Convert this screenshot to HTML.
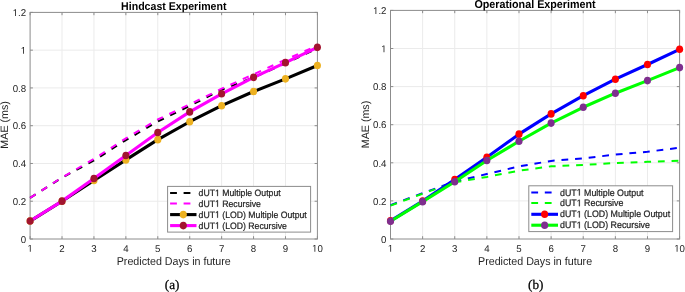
<!DOCTYPE html>
<html><head><meta charset="utf-8"><style>
html,body{margin:0;padding:0;background:#fff;}
svg{display:block;will-change:transform;font-family:"Liberation Sans",sans-serif;}
text{text-rendering:geometricPrecision;}
</style></head><body>
<svg width="685" height="292" viewBox="0 0 685 292">
<defs><path id="one" d="M515 0L515 1237L197 1010L197 1180L530 1409L696 1409L696 0Z"/></defs>
<rect width="685" height="292" fill="#fff"/>
<line x1="62.02" y1="12.40" x2="62.02" y2="239.00" stroke="#ebebeb" stroke-width="1"/>
<line x1="93.94" y1="12.40" x2="93.94" y2="239.00" stroke="#ebebeb" stroke-width="1"/>
<line x1="125.87" y1="12.40" x2="125.87" y2="239.00" stroke="#ebebeb" stroke-width="1"/>
<line x1="157.79" y1="12.40" x2="157.79" y2="239.00" stroke="#ebebeb" stroke-width="1"/>
<line x1="189.71" y1="12.40" x2="189.71" y2="239.00" stroke="#ebebeb" stroke-width="1"/>
<line x1="221.63" y1="12.40" x2="221.63" y2="239.00" stroke="#ebebeb" stroke-width="1"/>
<line x1="253.56" y1="12.40" x2="253.56" y2="239.00" stroke="#ebebeb" stroke-width="1"/>
<line x1="285.48" y1="12.40" x2="285.48" y2="239.00" stroke="#ebebeb" stroke-width="1"/>
<line x1="30.10" y1="201.23" x2="317.40" y2="201.23" stroke="#ebebeb" stroke-width="1"/>
<line x1="30.10" y1="163.47" x2="317.40" y2="163.47" stroke="#ebebeb" stroke-width="1"/>
<line x1="30.10" y1="125.70" x2="317.40" y2="125.70" stroke="#ebebeb" stroke-width="1"/>
<line x1="30.10" y1="87.93" x2="317.40" y2="87.93" stroke="#ebebeb" stroke-width="1"/>
<line x1="30.10" y1="50.17" x2="317.40" y2="50.17" stroke="#ebebeb" stroke-width="1"/>
<rect x="30.10" y="12.40" width="287.30" height="226.60" fill="none" stroke="#8c8c8c" stroke-width="1.0"/>
<line x1="30.10" y1="239.00" x2="30.10" y2="236.20" stroke="#8c8c8c" stroke-width="1.0"/>
<line x1="30.10" y1="12.40" x2="30.10" y2="15.20" stroke="#8c8c8c" stroke-width="1.0"/>
<use href="#one" transform="translate(27.40,251.70) scale(0.00474,-0.00483)" fill="#262626"/><text transform="translate(30.10,251.70) scale(1,1.02)" font-size="9.7" text-anchor="middle" fill="#262626" > </text>
<line x1="62.02" y1="239.00" x2="62.02" y2="236.20" stroke="#8c8c8c" stroke-width="1.0"/>
<line x1="62.02" y1="12.40" x2="62.02" y2="15.20" stroke="#8c8c8c" stroke-width="1.0"/>
<text transform="translate(62.02,251.70) scale(1,1.02)" font-size="9.7" text-anchor="middle" fill="#262626" >2</text>
<line x1="93.94" y1="239.00" x2="93.94" y2="236.20" stroke="#8c8c8c" stroke-width="1.0"/>
<line x1="93.94" y1="12.40" x2="93.94" y2="15.20" stroke="#8c8c8c" stroke-width="1.0"/>
<text transform="translate(93.94,251.70) scale(1,1.02)" font-size="9.7" text-anchor="middle" fill="#262626" >3</text>
<line x1="125.87" y1="239.00" x2="125.87" y2="236.20" stroke="#8c8c8c" stroke-width="1.0"/>
<line x1="125.87" y1="12.40" x2="125.87" y2="15.20" stroke="#8c8c8c" stroke-width="1.0"/>
<text transform="translate(125.87,251.70) scale(1,1.02)" font-size="9.7" text-anchor="middle" fill="#262626" >4</text>
<line x1="157.79" y1="239.00" x2="157.79" y2="236.20" stroke="#8c8c8c" stroke-width="1.0"/>
<line x1="157.79" y1="12.40" x2="157.79" y2="15.20" stroke="#8c8c8c" stroke-width="1.0"/>
<text transform="translate(157.79,251.70) scale(1,1.02)" font-size="9.7" text-anchor="middle" fill="#262626" >5</text>
<line x1="189.71" y1="239.00" x2="189.71" y2="236.20" stroke="#8c8c8c" stroke-width="1.0"/>
<line x1="189.71" y1="12.40" x2="189.71" y2="15.20" stroke="#8c8c8c" stroke-width="1.0"/>
<text transform="translate(189.71,251.70) scale(1,1.02)" font-size="9.7" text-anchor="middle" fill="#262626" >6</text>
<line x1="221.63" y1="239.00" x2="221.63" y2="236.20" stroke="#8c8c8c" stroke-width="1.0"/>
<line x1="221.63" y1="12.40" x2="221.63" y2="15.20" stroke="#8c8c8c" stroke-width="1.0"/>
<text transform="translate(221.63,251.70) scale(1,1.02)" font-size="9.7" text-anchor="middle" fill="#262626" >7</text>
<line x1="253.56" y1="239.00" x2="253.56" y2="236.20" stroke="#8c8c8c" stroke-width="1.0"/>
<line x1="253.56" y1="12.40" x2="253.56" y2="15.20" stroke="#8c8c8c" stroke-width="1.0"/>
<text transform="translate(253.56,251.70) scale(1,1.02)" font-size="9.7" text-anchor="middle" fill="#262626" >8</text>
<line x1="285.48" y1="239.00" x2="285.48" y2="236.20" stroke="#8c8c8c" stroke-width="1.0"/>
<line x1="285.48" y1="12.40" x2="285.48" y2="15.20" stroke="#8c8c8c" stroke-width="1.0"/>
<text transform="translate(285.48,251.70) scale(1,1.02)" font-size="9.7" text-anchor="middle" fill="#262626" >9</text>
<line x1="317.40" y1="239.00" x2="317.40" y2="236.20" stroke="#8c8c8c" stroke-width="1.0"/>
<line x1="317.40" y1="12.40" x2="317.40" y2="15.20" stroke="#8c8c8c" stroke-width="1.0"/>
<use href="#one" transform="translate(312.01,251.70) scale(0.00474,-0.00483)" fill="#262626"/><text transform="translate(317.40,251.70) scale(1,1.02)" font-size="9.7" text-anchor="middle" fill="#262626" > 0</text>
<line x1="30.10" y1="239.00" x2="32.90" y2="239.00" stroke="#8c8c8c" stroke-width="1.0"/>
<line x1="317.40" y1="239.00" x2="314.60" y2="239.00" stroke="#8c8c8c" stroke-width="1.0"/>
<text transform="translate(26.10,242.70) scale(1,1.02)" font-size="9.7" text-anchor="end" fill="#262626" >0</text>
<line x1="30.10" y1="201.23" x2="32.90" y2="201.23" stroke="#8c8c8c" stroke-width="1.0"/>
<line x1="317.40" y1="201.23" x2="314.60" y2="201.23" stroke="#8c8c8c" stroke-width="1.0"/>
<text transform="translate(26.10,204.93) scale(1,1.02)" font-size="9.7" text-anchor="end" fill="#262626" >0.2</text>
<line x1="30.10" y1="163.47" x2="32.90" y2="163.47" stroke="#8c8c8c" stroke-width="1.0"/>
<line x1="317.40" y1="163.47" x2="314.60" y2="163.47" stroke="#8c8c8c" stroke-width="1.0"/>
<text transform="translate(26.10,167.17) scale(1,1.02)" font-size="9.7" text-anchor="end" fill="#262626" >0.4</text>
<line x1="30.10" y1="125.70" x2="32.90" y2="125.70" stroke="#8c8c8c" stroke-width="1.0"/>
<line x1="317.40" y1="125.70" x2="314.60" y2="125.70" stroke="#8c8c8c" stroke-width="1.0"/>
<text transform="translate(26.10,129.40) scale(1,1.02)" font-size="9.7" text-anchor="end" fill="#262626" >0.6</text>
<line x1="30.10" y1="87.93" x2="32.90" y2="87.93" stroke="#8c8c8c" stroke-width="1.0"/>
<line x1="317.40" y1="87.93" x2="314.60" y2="87.93" stroke="#8c8c8c" stroke-width="1.0"/>
<text transform="translate(26.10,91.63) scale(1,1.02)" font-size="9.7" text-anchor="end" fill="#262626" >0.8</text>
<line x1="30.10" y1="50.17" x2="32.90" y2="50.17" stroke="#8c8c8c" stroke-width="1.0"/>
<line x1="317.40" y1="50.17" x2="314.60" y2="50.17" stroke="#8c8c8c" stroke-width="1.0"/>
<use href="#one" transform="translate(20.71,53.87) scale(0.00474,-0.00483)" fill="#262626"/><text transform="translate(26.10,53.87) scale(1,1.02)" font-size="9.7" text-anchor="end" fill="#262626" > </text>
<line x1="30.10" y1="12.40" x2="32.90" y2="12.40" stroke="#8c8c8c" stroke-width="1.0"/>
<line x1="317.40" y1="12.40" x2="314.60" y2="12.40" stroke="#8c8c8c" stroke-width="1.0"/>
<use href="#one" transform="translate(12.62,16.10) scale(0.00474,-0.00483)" fill="#262626"/><text transform="translate(26.10,16.10) scale(1,1.02)" font-size="9.7" text-anchor="end" fill="#262626" > .2</text>
<polyline points="30.10,197.83 62.02,177.63 93.94,160.45 125.87,140.05 157.79,121.55 189.71,105.87 221.63,89.82 253.56,77.55 285.48,63.38 317.40,48.28" fill="none" stroke="#000" stroke-width="2.0" stroke-dasharray="6.5 7.05"/>
<polyline points="30.10,197.83 62.02,177.44 93.94,158.93 125.87,138.35 157.79,119.47 189.71,104.36 221.63,88.69 253.56,74.34 285.48,59.61 317.40,45.63" fill="none" stroke="#ff00ff" stroke-width="2.0" stroke-dasharray="6.5 7.05"/>
<polyline points="30.10,221.06 62.02,201.23 93.94,180.46 125.87,159.88 157.79,139.67 189.71,121.73 221.63,105.68 253.56,91.52 285.48,78.87 317.40,65.46" fill="none" stroke="#000" stroke-width="3.1" stroke-linejoin="round"/>
<ellipse cx="30.10" cy="221.06" rx="3.55" ry="3.80" fill="#EDB120"/>
<ellipse cx="62.02" cy="201.23" rx="3.55" ry="3.80" fill="#EDB120"/>
<ellipse cx="93.94" cy="180.46" rx="3.55" ry="3.80" fill="#EDB120"/>
<ellipse cx="125.87" cy="159.88" rx="3.55" ry="3.80" fill="#EDB120"/>
<ellipse cx="157.79" cy="139.67" rx="3.55" ry="3.80" fill="#EDB120"/>
<ellipse cx="189.71" cy="121.73" rx="3.55" ry="3.80" fill="#EDB120"/>
<ellipse cx="221.63" cy="105.68" rx="3.55" ry="3.80" fill="#EDB120"/>
<ellipse cx="253.56" cy="91.52" rx="3.55" ry="3.80" fill="#EDB120"/>
<ellipse cx="285.48" cy="78.87" rx="3.55" ry="3.80" fill="#EDB120"/>
<ellipse cx="317.40" cy="65.46" rx="3.55" ry="3.80" fill="#EDB120"/>
<polyline points="30.10,221.06 62.02,201.14 93.94,178.57 125.87,155.54 157.79,132.50 189.71,111.92 221.63,93.79 253.56,77.36 285.48,62.63 317.40,47.33" fill="none" stroke="#ff00ff" stroke-width="3.1" stroke-linejoin="round"/>
<ellipse cx="30.10" cy="221.06" rx="3.55" ry="3.80" fill="#A2142F"/>
<ellipse cx="62.02" cy="201.14" rx="3.55" ry="3.80" fill="#A2142F"/>
<ellipse cx="93.94" cy="178.57" rx="3.55" ry="3.80" fill="#A2142F"/>
<ellipse cx="125.87" cy="155.54" rx="3.55" ry="3.80" fill="#A2142F"/>
<ellipse cx="157.79" cy="132.50" rx="3.55" ry="3.80" fill="#A2142F"/>
<ellipse cx="189.71" cy="111.92" rx="3.55" ry="3.80" fill="#A2142F"/>
<ellipse cx="221.63" cy="93.79" rx="3.55" ry="3.80" fill="#A2142F"/>
<ellipse cx="253.56" cy="77.36" rx="3.55" ry="3.80" fill="#A2142F"/>
<ellipse cx="285.48" cy="62.63" rx="3.55" ry="3.80" fill="#A2142F"/>
<ellipse cx="317.40" cy="47.33" rx="3.55" ry="3.80" fill="#A2142F"/>
<text transform="translate(173.75,9.50) scale(1,1.065)" font-size="10.6" text-anchor="middle" fill="#000" font-weight="bold">Hindcast Experiment</text>
<text transform="translate(173.75,265.00) scale(1,1.065)" font-size="10.7" text-anchor="middle" fill="#262626" >Predicted Days in future</text>
<text transform="translate(8.05,124.90) rotate(-90)" font-size="10.7" text-anchor="middle" fill="#262626">MAE (ms)</text>
<text x="172.10" y="288.95" font-size="13.2" text-anchor="middle" fill="#000" stroke="#000" stroke-width="0.25" font-family="Liberation Serif, serif">(a)</text>
<rect x="167.60" y="186.40" width="143.00" height="45.70" fill="#fff" stroke="#8c8c8c" stroke-width="1.0"/>
<line x1="170.10" y1="193.00" x2="196.50" y2="193.00" stroke="#000" stroke-width="2.0" stroke-dasharray="6.8 6.7"/>
<use href="#one" transform="translate(215.04,196.10) scale(0.00425,-0.00452)" fill="#262626" stroke="#262626" stroke-width="51.8"/><text transform="translate(198.60,196.10) scale(1,1.065)" font-size="8.7" text-anchor="start" fill="#262626" stroke="#262626" stroke-width="0.22" >dUT  Multiple Output</text>
<line x1="170.10" y1="203.60" x2="196.50" y2="203.60" stroke="#ff00ff" stroke-width="2.0" stroke-dasharray="6.8 6.7"/>
<use href="#one" transform="translate(215.04,206.70) scale(0.00425,-0.00452)" fill="#262626" stroke="#262626" stroke-width="51.8"/><text transform="translate(198.60,206.70) scale(1,1.065)" font-size="8.7" text-anchor="start" fill="#262626" stroke="#262626" stroke-width="0.22" >dUT  Recursive</text>
<line x1="170.10" y1="214.60" x2="196.50" y2="214.60" stroke="#000" stroke-width="3.1"/>
<ellipse cx="183.30" cy="214.60" rx="3.55" ry="3.80" fill="#EDB120"/>
<use href="#one" transform="translate(215.04,217.70) scale(0.00425,-0.00452)" fill="#262626" stroke="#262626" stroke-width="51.8"/><text transform="translate(198.60,217.70) scale(1,1.065)" font-size="8.7" text-anchor="start" fill="#262626" stroke="#262626" stroke-width="0.22" >dUT  (LOD) Multiple Output</text>
<line x1="170.10" y1="225.60" x2="196.50" y2="225.60" stroke="#ff00ff" stroke-width="3.1"/>
<ellipse cx="183.30" cy="225.60" rx="3.55" ry="3.80" fill="#A2142F"/>
<use href="#one" transform="translate(215.04,228.70) scale(0.00425,-0.00452)" fill="#262626" stroke="#262626" stroke-width="51.8"/><text transform="translate(198.60,228.70) scale(1,1.065)" font-size="8.7" text-anchor="start" fill="#262626" stroke="#262626" stroke-width="0.22" >dUT  (LOD) Recursive</text>
<line x1="422.62" y1="10.40" x2="422.62" y2="239.00" stroke="#ebebeb" stroke-width="1"/>
<line x1="454.74" y1="10.40" x2="454.74" y2="239.00" stroke="#ebebeb" stroke-width="1"/>
<line x1="486.87" y1="10.40" x2="486.87" y2="239.00" stroke="#ebebeb" stroke-width="1"/>
<line x1="518.99" y1="10.40" x2="518.99" y2="239.00" stroke="#ebebeb" stroke-width="1"/>
<line x1="551.11" y1="10.40" x2="551.11" y2="239.00" stroke="#ebebeb" stroke-width="1"/>
<line x1="583.23" y1="10.40" x2="583.23" y2="239.00" stroke="#ebebeb" stroke-width="1"/>
<line x1="615.36" y1="10.40" x2="615.36" y2="239.00" stroke="#ebebeb" stroke-width="1"/>
<line x1="647.48" y1="10.40" x2="647.48" y2="239.00" stroke="#ebebeb" stroke-width="1"/>
<line x1="390.50" y1="200.90" x2="679.60" y2="200.90" stroke="#ebebeb" stroke-width="1"/>
<line x1="390.50" y1="162.80" x2="679.60" y2="162.80" stroke="#ebebeb" stroke-width="1"/>
<line x1="390.50" y1="124.70" x2="679.60" y2="124.70" stroke="#ebebeb" stroke-width="1"/>
<line x1="390.50" y1="86.60" x2="679.60" y2="86.60" stroke="#ebebeb" stroke-width="1"/>
<line x1="390.50" y1="48.50" x2="679.60" y2="48.50" stroke="#ebebeb" stroke-width="1"/>
<rect x="390.50" y="10.40" width="289.10" height="228.60" fill="none" stroke="#8c8c8c" stroke-width="1.0"/>
<line x1="390.50" y1="239.00" x2="390.50" y2="236.20" stroke="#8c8c8c" stroke-width="1.0"/>
<line x1="390.50" y1="10.40" x2="390.50" y2="13.20" stroke="#8c8c8c" stroke-width="1.0"/>
<use href="#one" transform="translate(387.80,251.70) scale(0.00474,-0.00483)" fill="#262626"/><text transform="translate(390.50,251.70) scale(1,1.02)" font-size="9.7" text-anchor="middle" fill="#262626" > </text>
<line x1="422.62" y1="239.00" x2="422.62" y2="236.20" stroke="#8c8c8c" stroke-width="1.0"/>
<line x1="422.62" y1="10.40" x2="422.62" y2="13.20" stroke="#8c8c8c" stroke-width="1.0"/>
<text transform="translate(422.62,251.70) scale(1,1.02)" font-size="9.7" text-anchor="middle" fill="#262626" >2</text>
<line x1="454.74" y1="239.00" x2="454.74" y2="236.20" stroke="#8c8c8c" stroke-width="1.0"/>
<line x1="454.74" y1="10.40" x2="454.74" y2="13.20" stroke="#8c8c8c" stroke-width="1.0"/>
<text transform="translate(454.74,251.70) scale(1,1.02)" font-size="9.7" text-anchor="middle" fill="#262626" >3</text>
<line x1="486.87" y1="239.00" x2="486.87" y2="236.20" stroke="#8c8c8c" stroke-width="1.0"/>
<line x1="486.87" y1="10.40" x2="486.87" y2="13.20" stroke="#8c8c8c" stroke-width="1.0"/>
<text transform="translate(486.87,251.70) scale(1,1.02)" font-size="9.7" text-anchor="middle" fill="#262626" >4</text>
<line x1="518.99" y1="239.00" x2="518.99" y2="236.20" stroke="#8c8c8c" stroke-width="1.0"/>
<line x1="518.99" y1="10.40" x2="518.99" y2="13.20" stroke="#8c8c8c" stroke-width="1.0"/>
<text transform="translate(518.99,251.70) scale(1,1.02)" font-size="9.7" text-anchor="middle" fill="#262626" >5</text>
<line x1="551.11" y1="239.00" x2="551.11" y2="236.20" stroke="#8c8c8c" stroke-width="1.0"/>
<line x1="551.11" y1="10.40" x2="551.11" y2="13.20" stroke="#8c8c8c" stroke-width="1.0"/>
<text transform="translate(551.11,251.70) scale(1,1.02)" font-size="9.7" text-anchor="middle" fill="#262626" >6</text>
<line x1="583.23" y1="239.00" x2="583.23" y2="236.20" stroke="#8c8c8c" stroke-width="1.0"/>
<line x1="583.23" y1="10.40" x2="583.23" y2="13.20" stroke="#8c8c8c" stroke-width="1.0"/>
<text transform="translate(583.23,251.70) scale(1,1.02)" font-size="9.7" text-anchor="middle" fill="#262626" >7</text>
<line x1="615.36" y1="239.00" x2="615.36" y2="236.20" stroke="#8c8c8c" stroke-width="1.0"/>
<line x1="615.36" y1="10.40" x2="615.36" y2="13.20" stroke="#8c8c8c" stroke-width="1.0"/>
<text transform="translate(615.36,251.70) scale(1,1.02)" font-size="9.7" text-anchor="middle" fill="#262626" >8</text>
<line x1="647.48" y1="239.00" x2="647.48" y2="236.20" stroke="#8c8c8c" stroke-width="1.0"/>
<line x1="647.48" y1="10.40" x2="647.48" y2="13.20" stroke="#8c8c8c" stroke-width="1.0"/>
<text transform="translate(647.48,251.70) scale(1,1.02)" font-size="9.7" text-anchor="middle" fill="#262626" >9</text>
<line x1="679.60" y1="239.00" x2="679.60" y2="236.20" stroke="#8c8c8c" stroke-width="1.0"/>
<line x1="679.60" y1="10.40" x2="679.60" y2="13.20" stroke="#8c8c8c" stroke-width="1.0"/>
<use href="#one" transform="translate(674.21,251.70) scale(0.00474,-0.00483)" fill="#262626"/><text transform="translate(679.60,251.70) scale(1,1.02)" font-size="9.7" text-anchor="middle" fill="#262626" > 0</text>
<line x1="390.50" y1="239.00" x2="393.30" y2="239.00" stroke="#8c8c8c" stroke-width="1.0"/>
<line x1="679.60" y1="239.00" x2="676.80" y2="239.00" stroke="#8c8c8c" stroke-width="1.0"/>
<text transform="translate(386.50,242.70) scale(1,1.02)" font-size="9.7" text-anchor="end" fill="#262626" >0</text>
<line x1="390.50" y1="200.90" x2="393.30" y2="200.90" stroke="#8c8c8c" stroke-width="1.0"/>
<line x1="679.60" y1="200.90" x2="676.80" y2="200.90" stroke="#8c8c8c" stroke-width="1.0"/>
<text transform="translate(386.50,204.60) scale(1,1.02)" font-size="9.7" text-anchor="end" fill="#262626" >0.2</text>
<line x1="390.50" y1="162.80" x2="393.30" y2="162.80" stroke="#8c8c8c" stroke-width="1.0"/>
<line x1="679.60" y1="162.80" x2="676.80" y2="162.80" stroke="#8c8c8c" stroke-width="1.0"/>
<text transform="translate(386.50,166.50) scale(1,1.02)" font-size="9.7" text-anchor="end" fill="#262626" >0.4</text>
<line x1="390.50" y1="124.70" x2="393.30" y2="124.70" stroke="#8c8c8c" stroke-width="1.0"/>
<line x1="679.60" y1="124.70" x2="676.80" y2="124.70" stroke="#8c8c8c" stroke-width="1.0"/>
<text transform="translate(386.50,128.40) scale(1,1.02)" font-size="9.7" text-anchor="end" fill="#262626" >0.6</text>
<line x1="390.50" y1="86.60" x2="393.30" y2="86.60" stroke="#8c8c8c" stroke-width="1.0"/>
<line x1="679.60" y1="86.60" x2="676.80" y2="86.60" stroke="#8c8c8c" stroke-width="1.0"/>
<text transform="translate(386.50,90.30) scale(1,1.02)" font-size="9.7" text-anchor="end" fill="#262626" >0.8</text>
<line x1="390.50" y1="48.50" x2="393.30" y2="48.50" stroke="#8c8c8c" stroke-width="1.0"/>
<line x1="679.60" y1="48.50" x2="676.80" y2="48.50" stroke="#8c8c8c" stroke-width="1.0"/>
<use href="#one" transform="translate(381.11,52.20) scale(0.00474,-0.00483)" fill="#262626"/><text transform="translate(386.50,52.20) scale(1,1.02)" font-size="9.7" text-anchor="end" fill="#262626" > </text>
<line x1="390.50" y1="10.40" x2="393.30" y2="10.40" stroke="#8c8c8c" stroke-width="1.0"/>
<line x1="679.60" y1="10.40" x2="676.80" y2="10.40" stroke="#8c8c8c" stroke-width="1.0"/>
<use href="#one" transform="translate(373.02,14.10) scale(0.00474,-0.00483)" fill="#262626"/><text transform="translate(386.50,14.10) scale(1,1.02)" font-size="9.7" text-anchor="end" fill="#262626" > .2</text>
<polyline points="390.50,205.19 422.62,193.18 454.74,181.47 486.87,174.04 518.99,166.42 551.11,160.90 583.23,158.32 615.36,154.61 647.48,151.75 679.60,147.75" fill="none" stroke="#0000ff" stroke-width="2.0" stroke-dasharray="6.8 6.85"/>
<polyline points="390.50,205.66 422.62,193.66 454.74,182.23 486.87,176.90 518.99,170.71 551.11,166.32 583.23,164.99 615.36,162.99 647.48,161.85 679.60,160.70" fill="none" stroke="#00ff00" stroke-width="2.0" stroke-dasharray="6.8 6.85"/>
<polyline points="390.50,220.81 422.62,201.13 454.74,179.45 486.87,157.20 518.99,134.15 551.11,113.90 583.23,95.71 615.36,79.21 647.48,64.50 679.60,49.30" fill="none" stroke="#0000ff" stroke-width="3.1" stroke-linejoin="round"/>
<ellipse cx="390.50" cy="220.81" rx="3.55" ry="3.80" fill="#ff0000"/>
<ellipse cx="422.62" cy="201.13" rx="3.55" ry="3.80" fill="#ff0000"/>
<ellipse cx="454.74" cy="179.45" rx="3.55" ry="3.80" fill="#ff0000"/>
<ellipse cx="486.87" cy="157.20" rx="3.55" ry="3.80" fill="#ff0000"/>
<ellipse cx="518.99" cy="134.15" rx="3.55" ry="3.80" fill="#ff0000"/>
<ellipse cx="551.11" cy="113.90" rx="3.55" ry="3.80" fill="#ff0000"/>
<ellipse cx="583.23" cy="95.71" rx="3.55" ry="3.80" fill="#ff0000"/>
<ellipse cx="615.36" cy="79.21" rx="3.55" ry="3.80" fill="#ff0000"/>
<ellipse cx="647.48" cy="64.50" rx="3.55" ry="3.80" fill="#ff0000"/>
<ellipse cx="679.60" cy="49.30" rx="3.55" ry="3.80" fill="#ff0000"/>
<polyline points="390.50,221.28 422.62,201.66 454.74,181.75 486.87,160.51 518.99,141.27 551.11,123.10 583.23,107.29 615.36,93.19 647.48,80.62 679.60,67.59" fill="none" stroke="#00ff00" stroke-width="3.1" stroke-linejoin="round"/>
<ellipse cx="390.50" cy="221.28" rx="3.55" ry="3.80" fill="#7E2F8E"/>
<ellipse cx="422.62" cy="201.66" rx="3.55" ry="3.80" fill="#7E2F8E"/>
<ellipse cx="454.74" cy="181.75" rx="3.55" ry="3.80" fill="#7E2F8E"/>
<ellipse cx="486.87" cy="160.51" rx="3.55" ry="3.80" fill="#7E2F8E"/>
<ellipse cx="518.99" cy="141.27" rx="3.55" ry="3.80" fill="#7E2F8E"/>
<ellipse cx="551.11" cy="123.10" rx="3.55" ry="3.80" fill="#7E2F8E"/>
<ellipse cx="583.23" cy="107.29" rx="3.55" ry="3.80" fill="#7E2F8E"/>
<ellipse cx="615.36" cy="93.19" rx="3.55" ry="3.80" fill="#7E2F8E"/>
<ellipse cx="647.48" cy="80.62" rx="3.55" ry="3.80" fill="#7E2F8E"/>
<ellipse cx="679.60" cy="67.59" rx="3.55" ry="3.80" fill="#7E2F8E"/>
<text transform="translate(535.05,8.30) scale(1,1.065)" font-size="10.75" text-anchor="middle" fill="#000" font-weight="bold">Operational Experiment</text>
<text transform="translate(535.05,265.00) scale(1,1.065)" font-size="10.7" text-anchor="middle" fill="#262626" >Predicted Days in future</text>
<text transform="translate(368.50,124.50) rotate(-90)" font-size="10.7" text-anchor="middle" fill="#262626">MAE (ms)</text>
<text x="535.70" y="288.95" font-size="13.2" text-anchor="middle" fill="#000" stroke="#000" stroke-width="0.25" font-family="Liberation Serif, serif">(b)</text>
<rect x="528.80" y="185.80" width="143.80" height="45.80" fill="#fff" stroke="#8c8c8c" stroke-width="1.0"/>
<line x1="531.30" y1="192.45" x2="558.00" y2="192.45" stroke="#0000ff" stroke-width="2.0" stroke-dasharray="6.8 6.7"/>
<use href="#one" transform="translate(576.72,195.55) scale(0.00432,-0.00460)" fill="#262626" stroke="#262626" stroke-width="50.9"/><text transform="translate(560.00,195.55) scale(1,1.065)" font-size="8.85" text-anchor="start" fill="#262626" stroke="#262626" stroke-width="0.22" >dUT  Multiple Output</text>
<line x1="531.30" y1="203.05" x2="558.00" y2="203.05" stroke="#00ff00" stroke-width="2.0" stroke-dasharray="6.8 6.7"/>
<use href="#one" transform="translate(576.72,206.15) scale(0.00432,-0.00460)" fill="#262626" stroke="#262626" stroke-width="50.9"/><text transform="translate(560.00,206.15) scale(1,1.065)" font-size="8.85" text-anchor="start" fill="#262626" stroke="#262626" stroke-width="0.22" >dUT  Recursive</text>
<line x1="531.30" y1="214.30" x2="558.00" y2="214.30" stroke="#0000ff" stroke-width="3.1"/>
<ellipse cx="544.65" cy="214.30" rx="3.55" ry="3.80" fill="#ff0000"/>
<use href="#one" transform="translate(576.72,217.40) scale(0.00432,-0.00460)" fill="#262626" stroke="#262626" stroke-width="50.9"/><text transform="translate(560.00,217.40) scale(1,1.065)" font-size="8.85" text-anchor="start" fill="#262626" stroke="#262626" stroke-width="0.22" >dUT  (LOD) Multiple Output</text>
<line x1="531.30" y1="225.20" x2="558.00" y2="225.20" stroke="#00ff00" stroke-width="3.1"/>
<ellipse cx="544.65" cy="225.20" rx="3.55" ry="3.80" fill="#7E2F8E"/>
<use href="#one" transform="translate(576.72,228.30) scale(0.00432,-0.00460)" fill="#262626" stroke="#262626" stroke-width="50.9"/><text transform="translate(560.00,228.30) scale(1,1.065)" font-size="8.85" text-anchor="start" fill="#262626" stroke="#262626" stroke-width="0.22" >dUT  (LOD) Recursive</text>
</svg>
</body></html>
